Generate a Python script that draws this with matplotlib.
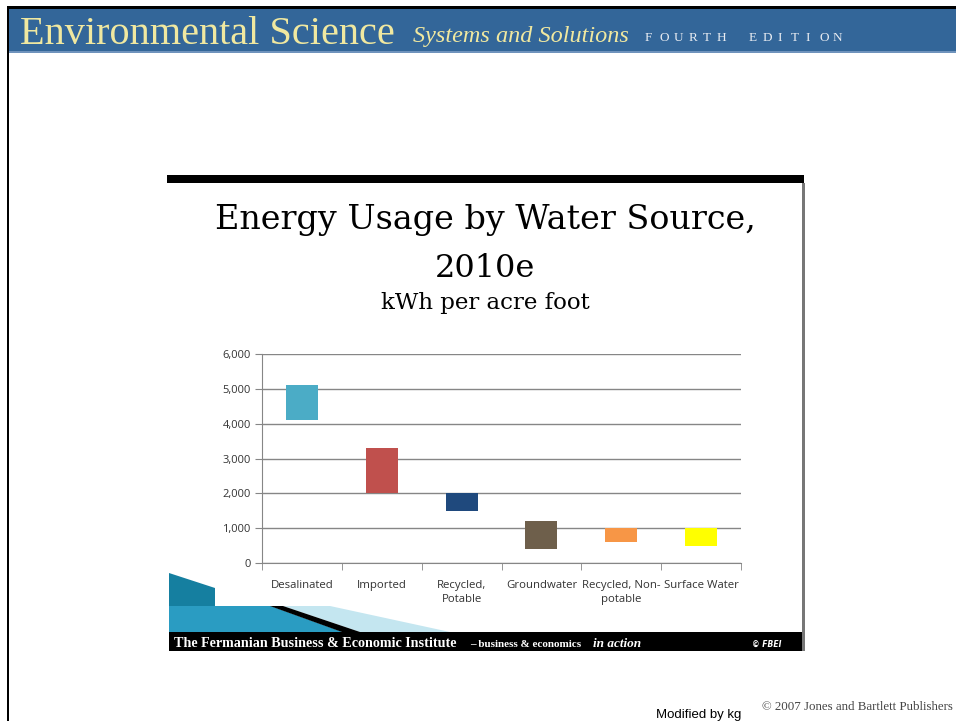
import matplotlib.pyplot as plt
from matplotlib.patches import Rectangle, Polygon

sources = ["Desalinated", "Imported", "Recycled,\nPotable", "Groundwater",
           "Recycled, Non-\npotable", "Surface Water"]
low_kwh = [4100, 2000, 1500, 400, 600, 500]
high_kwh = [5100, 3300, 2000, 1200, 1000, 1000]
bar_colors = ["#4BACC6", "#C0504D", "#1F497D", "#6E5F4B", "#F79646", "#FFFF00"]
y_ticks = [0, 1000, 2000, 3000, 4000, 5000, 6000]

W, H = 956, 721
fig = plt.figure(figsize=(W / 100, H / 100), dpi=100)


def fx(px):
    return px / W


def fy(py):
    return 1 - py / H


def box(x0, y0, x1, y1, color, z=0):
    fig.patches.append(Rectangle((fx(x0), fy(y1)), fx(x1) - fx(x0), fy(y0) - fy(y1),
                                 transform=fig.transFigure, color=color, zorder=z, lw=0))


def poly(points, color, z=0):
    fig.patches.append(Polygon([(fx(a), fy(b)) for a, b in points],
                               transform=fig.transFigure, color=color, zorder=z, lw=0))


# page header
box(7, 6, W, 9, "black")
box(7, 9, W, 52, "#336699")
box(7, 51, W, 53, "#6F93BC")
box(7, 6, 9, 721, "black")
fig.text(fx(20), fy(44), "Environmental Science", color="#F0E8A0", fontsize=29,
         family="Liberation Serif", va="baseline", ha="left")
fig.text(fx(413), fy(42), "Systems and Solutions", color="#F0E8A0", fontsize=17.5,
         family="Liberation Serif", style="italic", va="baseline", ha="left")
for word, start, pitch in [("FOURTH", 645, 14.4), ("EDITION", 749, 14.0)]:
    for i, ch in enumerate(word):
        fig.text(fx(start + i * pitch), fy(41), ch, color="#E8ECF2", fontsize=9.5,
                 family="Liberation Serif", va="baseline", ha="left")

# slide frame
box(167, 175, 804, 183, "black", 1)
box(802, 183, 805, 651, "#777777", 1)
box(169, 632, 802, 651, "black", 1)

# bottom-left decoration
poly([(169, 573), (215, 588), (215, 606), (270, 606), (342, 632), (169, 632)], "#157FA0", 1)
poly([(169, 606), (270, 606), (342, 632), (169, 632)], "#2A9CC2", 1)
poly([(270, 606), (283, 606), (360, 632), (342, 632)], "black", 2)
poly([(283, 606), (330, 606), (450, 632), (360, 632)], "#C4E6F0", 1)

fig.text(fx(174), fy(647), "The Fermanian Business & Economic Institute", color="white",
         fontsize=10.2, family="Liberation Serif", weight="bold", va="baseline", ha="left")
fig.text(fx(470), fy(647), "\u2013 business & economics", color="white", fontsize=8,
         family="Liberation Serif", weight="bold", va="baseline", ha="left")
fig.text(fx(593), fy(647), "in action", color="white", fontsize=9.5,
         family="Liberation Serif", style="italic", weight="bold", va="baseline", ha="left")
fig.text(fx(752), fy(647), "\u00a9 FBEI", color="white", fontsize=5.5,
         family="DejaVu Sans", style="italic", weight="bold", va="baseline", ha="left")

# slide title
fig.text(fx(485), fy(220), "Energy Usage by Water Source,", fontsize=24,
         family="DejaVu Serif", va="center", ha="center")
fig.text(fx(485), fy(268), "2010e", fontsize=23, family="DejaVu Serif",
         va="center", ha="center")
fig.text(fx(485), fy(303), "kWh per acre foot", fontsize=16.5, family="DejaVu Serif",
         va="center", ha="center")

# chart
ax = fig.add_axes([fx(262), fy(563), fx(741) - fx(262), fy(354) - fy(563)])
heights = [h - l for l, h in zip(low_kwh, high_kwh)]
ax.bar(range(len(sources)), heights, bottom=low_kwh, width=0.4, color=bar_colors, zorder=3)
ax.set_xlim(-0.5, len(sources) - 0.5)
ax.set_ylim(0, 6000)
ax.set_yticks(y_ticks)
ax.set_yticklabels([f"{v:,}" for v in y_ticks], fontsize=8, family="Open Sans", color="#333333")
ax.grid(axis="y", color="#868686", lw=1, zorder=0)
ax.set_xticks(range(len(sources)))
ax.set_xticklabels(sources, fontsize=8.2, family="Open Sans", color="#333333", linespacing=1.45)
ax.set_xticks([i - 0.5 for i in range(len(sources) + 1)], minor=True)
ax.tick_params(axis="x", which="major", length=0, pad=12)
ax.tick_params(axis="x", which="minor", length=5, color="#868686")
ax.tick_params(axis="y", length=5, color="#868686", pad=3)
for side in ["top", "right"]:
    ax.spines[side].set_visible(False)
ax.spines["left"].set_color("#868686")
ax.spines["bottom"].set_color("#868686")

# page footer
fig.text(fx(656), fy(715), "Modified by kg", fontsize=9.5, family="Liberation Sans",
         va="center", ha="left")
fig.text(fx(762), fy(707), "\u00a9 2007 Jones and Bartlett Publishers", fontsize=9.3,
         family="Liberation Serif", color="#444444", va="center", ha="left")

fig.savefig("out.png", dpi=100)
